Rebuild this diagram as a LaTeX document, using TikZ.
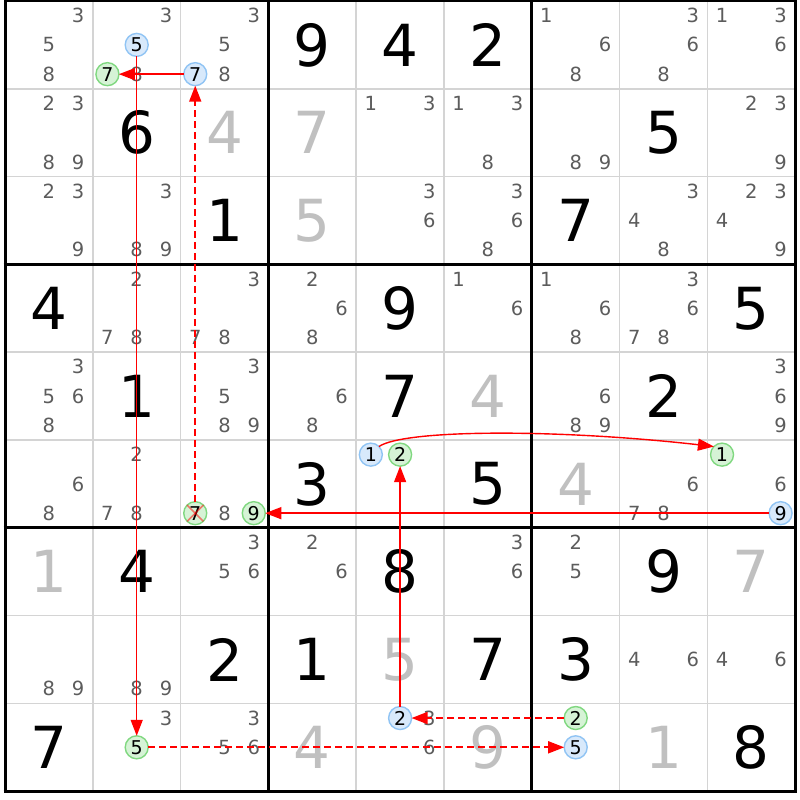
\documentclass[tikz,border=0pt]{standalone}
\usepackage{fontspec}
\setmainfont{DejaVu Sans}
\usetikzlibrary{arrows.meta}
\definecolor{candgray}{HTML}{5C5C5C}
\definecolor{solvedgray}{HTML}{C0C0C0}
\definecolor{gridgray}{HTML}{D4D4D4}
\definecolor{bluefill}{HTML}{D8E9FB}
\definecolor{bluedraw}{HTML}{90C4F4}
\definecolor{greenfill}{HTML}{D6F3D6}
\definecolor{greendraw}{HTML}{80D880}
\definecolor{linkred}{HTML}{FF0000}
\newcommand\candxy[3]{%
  \pgfmathsetmacro\cx{5+(#2-1)*87.8+(mod(#3-1,3)+0.5)*29.2667}%
  \pgfmathsetmacro\cy{1+(#1-1)*87.8+(floor((#3-1)/3)+0.5)*29.2667}}
\newcommand\cellxy[2]{%
  \pgfmathsetmacro\cx{5+(#2-0.5)*87.8}%
  \pgfmathsetmacro\cy{1+(#1-0.5)*87.8}}
\tikzset{
  given/.style={inner sep=0pt, text=black, font=\fontsize{58}{60}\selectfont},
  solved/.style={inner sep=0pt, text=solvedgray, font=\fontsize{58}{60}\selectfont},
  cand/.style={inner sep=0pt, text=candgray, font=\fontsize{19.5}{21}\selectfont},
  markc/.style={circle, minimum size=23pt, inner sep=0pt, outer sep=0pt, line width=1.4pt, text=black, font=\fontsize{19}{21}\selectfont},
  bc/.style={markc, draw=bluedraw, fill=bluefill},
  gc/.style={markc, draw=greendraw, fill=greenfill},
  link/.style={draw=linkred, color=linkred, line width=1.4pt, -{Triangle[length=16pt,width=12pt]}},
  weaklink/.style={link, line width=1.7pt, dash pattern=on 7pt off 4pt},
  xcross/.style={draw=linkred, opacity=0.5, line width=1.6pt},
  thinline/.style={draw=gridgray, line width=1.5pt},
  thickline/.style={draw=black, line width=3pt}
}
\begin{document}
\begin{tikzpicture}[x=1pt,y=-1pt]
\useasboundingbox (0,0) rectangle (800,800);
\fill[white] (0,0) rectangle (800,800);
% grid
\foreach \i in {1,2,4,5,7,8}{
  \draw[thinline] ({5+\i*87.8},1) -- ({5+\i*87.8},791.2);
  \draw[thinline] (5,{1+\i*87.8}) -- (795.2,{1+\i*87.8});
}
\foreach \i in {0,3,6,9}{
  \draw[thickline] ({5+\i*87.8},-0.5) -- ({5+\i*87.8},792.7);
  \draw[thickline] (3.5,{1+\i*87.8}) -- (796.7,{1+\i*87.8});
}
% givens
\foreach \r/\c/\d in {1/4/9,1/5/4,1/6/2,2/2/6,2/8/5,3/3/1,3/7/7,4/1/4,4/5/9,4/9/5,
  5/2/1,5/5/7,5/8/2,6/4/3,6/6/5,7/2/4,7/5/8,7/8/9,8/3/2,8/4/1,8/6/7,8/7/3,9/1/7,9/9/8}{
  \cellxy{\r}{\c}
  \node[given] (g\r\c) at (\cx,\cy) {\d};
}
% solved
\foreach \r/\c/\d in {2/3/4,2/4/7,3/4/5,5/6/4,6/7/4,7/1/1,7/9/7,8/5/5,9/4/4,9/6/9,9/8/1}{
  \cellxy{\r}{\c}
  \node[solved] (s\r\c) at (\cx,\cy) {\d};
}
% candidates
\foreach \r/\c/\L in {1/1/{3,5,8},1/2/{3,8},1/3/{3,5,8},1/7/{1,6,8},1/8/{3,6,8},1/9/{1,3,6},
  2/1/{2,3,8,9},2/5/{1,3},2/6/{1,3,8},2/7/{8,9},2/9/{2,3,9},
  3/1/{2,3,9},3/2/{3,8,9},3/5/{3,6},3/6/{3,6,8},3/8/{3,4,8},3/9/{2,3,4,9},
  4/2/{2,7,8},4/3/{3,7,8},4/4/{2,6,8},4/6/{1,6},4/7/{1,6,8},4/8/{3,6,7,8},
  5/1/{3,5,6,8},5/3/{3,5,8,9},5/4/{6,8},5/7/{6,8,9},5/9/{3,6,9},
  6/1/{6,8},6/2/{2,7,8},6/3/{8},6/8/{6,7,8},6/9/{6},
  7/3/{3,5,6},7/4/{2,6},7/6/{3,6},7/7/{2,5},
  8/1/{8,9},8/2/{8,9},8/8/{4,6},8/9/{4,6},
  9/2/{3},9/3/{3,5,6},9/5/{3,6}}{
  \foreach \d in \L {
    \candxy{\r}{\c}{\d}
    \node[cand] (k\r\c\d) at (\cx,\cy) {\d};
  }
}
% marked candidates
\foreach \r/\c/\d/\st/\nm in {1/2/5/bc/B125,1/2/7/gc/G127,1/3/7/bc/B137,6/3/7/gc/X637,6/3/9/gc/G639,
  6/5/1/bc/B651,6/5/2/gc/G652,6/9/1/gc/G691,6/9/9/bc/B699,9/2/5/gc/G925,9/5/2/bc/B952,
  9/7/2/gc/G972,9/7/5/bc/B975}{
  \candxy{\r}{\c}{\d}
  \node[\st] (\nm) at (\cx,\cy) {\d};
}
% elimination cross
\draw[xcross] (X637.45) -- (X637.225);
\draw[xcross] (X637.135) -- (X637.315);
% links
\draw[link] (B137) -- (G127);
\draw[link] (B125) -- (G925);
\draw[weaklink] (G925) -- (B975);
\draw[weaklink] (G972) -- (B952);
\draw[link] (B952) -- (G652);
\draw[link] (B651.45) .. controls (405,429) and (560,429) .. (G691.135);
\draw[link] (B699) -- (G639);
\draw[weaklink] (X637) -- (B137);
\end{tikzpicture}
\end{document}
